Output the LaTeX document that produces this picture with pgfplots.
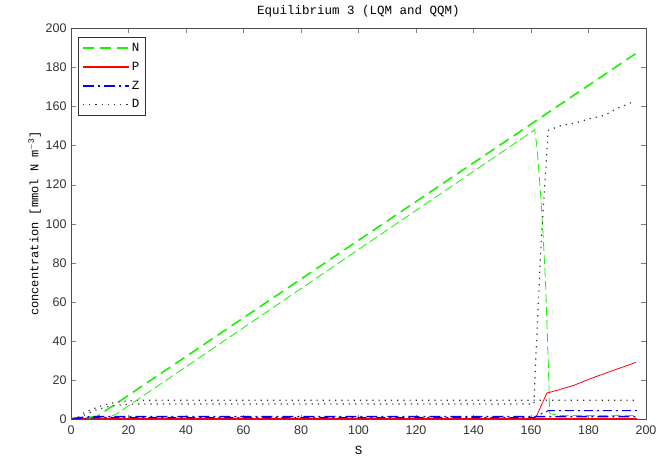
\documentclass[border=0pt]{standalone}
\usepackage{fontspec}
\setmainfont{Liberation Sans}
\newfontfamily\monof{Liberation Mono}
\usepackage{pgfplots}
\pgfplotsset{compat=1.18}
\definecolor{mgreen}{rgb}{0.1,0.95,0.0}
\begin{document}
\begin{tikzpicture}
\begin{axis}[
  scale only axis,
  width=575pt, height=391.5pt,
  at={(0,0)}, anchor=south west,
  xmin=0, xmax=200, ymin=0, ymax=200,
  xtick={0,20,...,200}, ytick={0,20,...,200},
  tick align=inside, major tick length=5pt,
  /pgf/number format/assume math mode=true,
  tick label style={font=\fontsize{12.5}{13}\selectfont, color=black!80},
  xticklabel style={yshift=-3pt},
  yticklabel style={xshift=-1pt},
  axis line style={black!70, line width=0.8pt},
  title={\monof\fontsize{12.5}{14}\selectfont Equilibrium 3 (LQM and QQM)},
  title style={yshift=1pt},
  xlabel={\monof\fontsize{12.5}{14}\selectfont S},
  ylabel={\monof\fontsize{12}{14}\selectfont concentration [mmol N m$^{\mathrm{-3}}$]},
  xlabel style={yshift=-4pt},
  ylabel style={yshift=-2pt},
  legend style={at={(0.012,0.977)}, anchor=north west, draw=black!80, line width=0.8pt,
    font=\monof\fontsize{12.5}{14}\selectfont, row sep=5pt, inner sep=4pt},
  legend cell align=left,
  legend image code/.code={\draw[#1] plot coordinates {(0pt,0pt) (24pt,0pt) (46pt,0pt)};},
]
% model A (thick)
\addplot[mgreen, line width=1.6pt, dash pattern=on 11pt off 6pt] coordinates {
(0.5,0.3) (9,1.5) (197,187.5)};
\addlegendentry{N}
\addplot[red, line width=1.6pt] coordinates {
(0.5,0.4) (197,0.4)};
\addlegendentry{P}
\addplot[blue, line width=1.6pt, dash pattern=on 11pt off 4pt on 2pt off 4pt] coordinates {
(0.5,0.5) (5,1.2) (10,1.5) (197,1.5)};
\addlegendentry{Z}
\addplot[black!80, line width=1.2pt, dash pattern=on 1.2pt off 5pt] coordinates {
(0.5,0) (2.5,1) (4,3) (7,5) (10,6.8) (14,8.3) (18,9.3) (24,9.8) (197,9.8)};
\addlegendentry{D}
% model B (thin)
\addplot[mgreen, line width=0.8pt, dash pattern=on 9pt off 4pt, forget plot] coordinates {
(0.5,0.3) (13,1) (16,3) (161.3,148) (162,140) (163,122) (164,100) (165,72) (166,30) (166.5,3) (170,2) (197,2)};
\addplot[red, line width=0.8pt, forget plot] coordinates {
(0.5,0.2) (161,0.2) (162,2) (165.5,13.5) (170,15.3) (175,17.5) (180,20.5) (185,23.2) (190,25.8) (196.5,29.2)};
\addplot[blue, line width=1.0pt, dash pattern=on 9pt off 4pt on 2pt off 4pt, forget plot] coordinates {
(0.5,0.3) (10,1) (161,1) (163,2.5) (166,4.5) (197,4.5)};
\addplot[black!80, line width=1.2pt, dash pattern=on 1.2pt off 5pt, forget plot] coordinates {
(0.5,0) (3,1) (5,2.5) (8,4.5) (12,6.3) (16,7.3) (22,7.9) (161,7.9) (161.3,19) (163.5,90) (166,147.7) (170.7,150.3) (175.3,151.4) (180.5,153.7) (185.7,155.4) (189.8,158.8) (196.2,162.7)};
\end{axis}
\pgfresetboundingbox
\path[use as bounding box] (-71pt,-39.5pt) rectangle (601pt,419.5pt);
\end{tikzpicture}
\end{document}
